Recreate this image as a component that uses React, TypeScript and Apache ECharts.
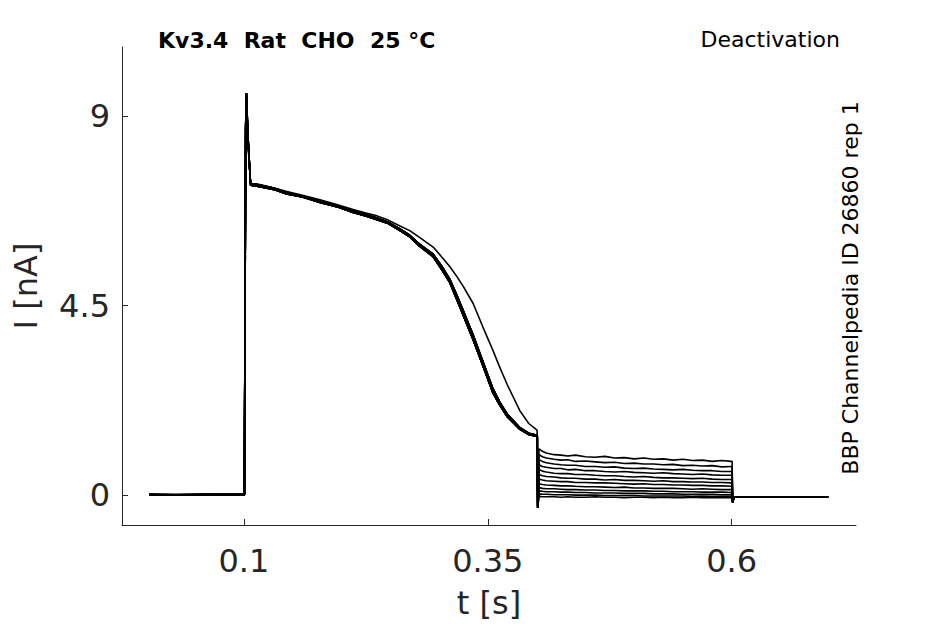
import React, { useEffect, useRef } from "react";
import * as echarts from "echarts";

// time points (s) of the shared activation part of every sweep
const mainTimes = [
  0.003, 0.03, 0.06, 0.1005, 0.101, 0.1018, 0.1026, 0.104, 0.1068, 0.115, 0.13, 0.144, 0.16, 0.178, 0.195,
  0.212, 0.225, 0.2365, 0.248, 0.26, 0.27, 0.28, 0.294, 0.303, 0.311, 0.318, 0.325, 0.335, 0.345, 0.355,
  0.362, 0.37, 0.383, 0.392, 0.4005,
];
// current (nA) – bulk of the sweeps, lower edge of the band
const mainLow = [
  0.01, 0.0, 0.01, 0.01, 3.5, 8.8, 9.55, 8.6, 7.36, 7.33, 7.26, 7.15, 7.08, 6.95, 6.85, 6.71, 6.63, 6.54,
  6.45, 6.28, 6.13, 5.91, 5.66, 5.35, 5.05, 4.66, 4.26, 3.69, 3.07, 2.44, 2.15, 1.86, 1.56, 1.44, 1.39,
];
// upper edge of the band
const mainHigh = [
  0.02, 0.01, 0.02, 0.02, 3.4, 8.7, 9.45, 8.5, 7.4, 7.37, 7.29, 7.19, 7.1, 6.99, 6.87, 6.75, 6.66, 6.58,
  6.48, 6.32, 6.17, 5.96, 5.72, 5.43, 5.13, 4.76, 4.37, 3.8, 3.17, 2.54, 2.22, 1.92, 1.6, 1.47, 1.42,
];
// the one slower sweep
const mainSlow = [
  0.0, 0.02, 0.01, 0.0, 3.3, 8.6, 9.4, 8.4, 7.4, 7.38, 7.3, 7.21, 7.12, 7.01, 6.9, 6.78, 6.7, 6.63, 6.53,
  6.39, 6.28, 6.12, 5.89, 5.65, 5.43, 5.2, 4.95, 4.55, 3.99, 3.45, 3.05, 2.62, 2.0, 1.7, 1.54,
];

// deactivation tail, 0.4 – 0.6 s
const tailTimes = [
  0.4025, 0.406, 0.41, 0.418, 0.425, 0.432, 0.44, 0.45, 0.46, 0.47, 0.48, 0.49, 0.5, 0.51, 0.52, 0.53,
  0.54, 0.55, 0.56, 0.57, 0.58, 0.59, 0.5995,
];
const tails = [
  [1.1, 1.04, 1.0, 0.96, 0.95, 0.93, 0.95, 0.91, 0.9, 0.92, 0.88, 0.89, 0.86, 0.88, 0.85, 0.86, 0.83, 0.85, 0.82, 0.83, 0.8, 0.82, 0.8],
  [0.96, 0.91, 0.88, 0.85, 0.83, 0.84, 0.8, 0.81, 0.79, 0.77, 0.78, 0.75, 0.76, 0.74, 0.74, 0.72, 0.73, 0.7, 0.71, 0.69, 0.7, 0.67, 0.68],
  [0.84, 0.8, 0.77, 0.74, 0.72, 0.71, 0.71, 0.68, 0.68, 0.66, 0.67, 0.64, 0.63, 0.64, 0.62, 0.61, 0.6, 0.61, 0.59, 0.58, 0.58, 0.56, 0.56],
  [0.72, 0.68, 0.66, 0.63, 0.63, 0.6, 0.61, 0.58, 0.58, 0.56, 0.55, 0.56, 0.54, 0.53, 0.52, 0.53, 0.51, 0.5, 0.49, 0.5, 0.48, 0.47, 0.47],
  [0.61, 0.57, 0.55, 0.52, 0.51, 0.51, 0.49, 0.49, 0.47, 0.46, 0.46, 0.44, 0.43, 0.44, 0.42, 0.41, 0.41, 0.4, 0.39, 0.4, 0.38, 0.37, 0.37],
  [0.49, 0.46, 0.44, 0.43, 0.41, 0.4, 0.4, 0.38, 0.38, 0.36, 0.37, 0.35, 0.35, 0.34, 0.33, 0.34, 0.32, 0.32, 0.31, 0.31, 0.3, 0.3, 0.29],
  [0.38, 0.36, 0.34, 0.33, 0.32, 0.32, 0.3, 0.3, 0.29, 0.29, 0.28, 0.27, 0.26, 0.27, 0.25, 0.25, 0.24, 0.24, 0.23, 0.23, 0.22, 0.22, 0.21],
  [0.27, 0.25, 0.24, 0.23, 0.22, 0.22, 0.21, 0.2, 0.2, 0.19, 0.18, 0.19, 0.17, 0.17, 0.16, 0.16, 0.16, 0.15, 0.14, 0.15, 0.14, 0.13, 0.13],
  [0.18, 0.16, 0.15, 0.15, 0.14, 0.13, 0.13, 0.12, 0.12, 0.11, 0.11, 0.1, 0.1, 0.1, 0.09, 0.09, 0.08, 0.08, 0.08, 0.07, 0.07, 0.07, 0.06],
  [0.1, 0.09, 0.08, 0.08, 0.07, 0.07, 0.06, 0.06, 0.05, 0.05, 0.05, 0.04, 0.04, 0.04, 0.03, 0.03, 0.03, 0.02, 0.02, 0.02, 0.02, 0.01, 0.01],
  [0.03, 0.02, 0.02, 0.01, 0.01, 0.01, 0.0, 0.0, 0.0, -0.01, -0.01, -0.01, -0.01, -0.02, -0.02, -0.02, -0.02, -0.02, -0.03, -0.02, -0.03, -0.03, -0.03],
  [-0.03, -0.04, -0.04, -0.04, -0.05, -0.04, -0.05, -0.05, -0.04, -0.05, -0.05, -0.06, -0.05, -0.05, -0.06, -0.05, -0.06, -0.06, -0.05, -0.06, -0.06, -0.06, -0.06],
];
// which activation trace each sweep uses
const sweepShape = ["low", "high", "low", "high", "low", "low", "high", "low", "high", "low", "high", "slow"];

// capacitive spike at the step to the tail potential
const onSpikeTimes = [0.4008, 0.4012];
const onSpikeValues = [1.38, -0.3];
// return to holding after 0.6 s
const endTimes = [0.601, 0.6025, 0.63, 0.66, 0.699];
const endValues = [-0.17, -0.05, -0.04, -0.05, -0.04];

const xTicks = [0.1, 0.35, 0.6];
const yTicks = [0, 4.5, 9];

const FONT = '"DejaVu Sans", sans-serif';
const AXIS_COLOR = "#262626";

export default function App() {
  const chartRef = useRef<HTMLDivElement>(null);

  useEffect(() => {
    if (!chartRef.current) return;
    document.body.style.margin = "0";
    const chart = echarts.init(chartRef.current, undefined, { renderer: "svg" });

    const shapes: Record<string, number[]> = { low: mainLow, high: mainHigh, slow: mainSlow };

    const series = tails.map((tail, i) => {
      const head = shapes[sweepShape[i]];
      const data: [number, number][] = mainTimes.map((t, k) => [t, head[k]]);
      onSpikeTimes.forEach((t, k) => data.push([t, onSpikeValues[k]]));
      tailTimes.forEach((t, k) => data.push([t, tail[k]]));
      data.push([0.6005, tail[tail.length - 1]]);
      endTimes.forEach((t, k) => data.push([t, endValues[k]]));
      return {
        type: "line" as const,
        data,
        showSymbol: false,
        silent: true,
        lineStyle: { color: "#000", width: 1.6 },
      };
    });

    const option: echarts.EChartsOption = {
      animation: false,
      backgroundColor: "#fff",
      grid: { left: 122, right: 89, top: 47, bottom: 99 },
      xAxis: {
        type: "value",
        min: -0.025,
        max: 0.7275,
        name: "t [s]",
        nameLocation: "middle",
        nameGap: 62,
        nameTextStyle: { fontFamily: FONT, fontSize: 32, color: AXIS_COLOR },
        axisLine: { onZero: false, lineStyle: { color: AXIS_COLOR, width: 1 } },
        axisTick: { inside: true, length: 6, customValues: xTicks, lineStyle: { color: AXIS_COLOR } },
        axisLabel: {
          customValues: xTicks,
          margin: 20,
          fontFamily: FONT,
          fontSize: 32,
          color: AXIS_COLOR,
          formatter: (v: number) => String(v),
        },
        splitLine: { show: false },
      },
      yAxis: {
        type: "value",
        min: -0.71,
        max: 10.64,
        name: "I [nA]",
        nameLocation: "middle",
        nameGap: 80,
        nameTextStyle: { fontFamily: FONT, fontSize: 32, color: AXIS_COLOR },
        axisLine: { show: true, onZero: false, lineStyle: { color: AXIS_COLOR, width: 1 } },
        axisTick: { show: true, inside: true, length: 6, customValues: yTicks, lineStyle: { color: AXIS_COLOR } },
        axisLabel: {
          customValues: yTicks,
          margin: 12,
          fontFamily: FONT,
          fontSize: 32,
          color: AXIS_COLOR,
          formatter: (v: number) => String(v),
        },
        splitLine: { show: false },
      },
      graphic: [
        {
          type: "text",
          x: 158,
          y: 40,
          style: {
            text: "Kv3.4  Rat  CHO  25 °C",
            font: `bold 22px ${FONT}`,
            fill: "#000",
            align: "left",
            verticalAlign: "middle",
          },
        },
        {
          type: "text",
          x: 840,
          y: 39,
          style: {
            text: "Deactivation",
            font: `22px ${FONT}`,
            fill: "#000",
            align: "right",
            verticalAlign: "middle",
          },
        },
        {
          type: "text",
          x: 850,
          y: 288,
          rotation: Math.PI / 2,
          style: {
            text: "BBP Channelpedia ID 26860 rep 1",
            font: `22px ${FONT}`,
            fill: "#000",
            align: "center",
            verticalAlign: "middle",
          },
        },
      ],
      series,
    };

    chart.setOption(option);
    return () => chart.dispose();
  }, []);

  return <div ref={chartRef} style={{ width: 945, height: 624 }} />;
}
